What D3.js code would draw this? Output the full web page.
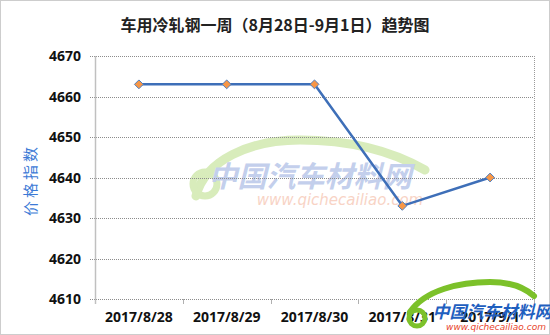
<!DOCTYPE html>
<html><head><meta charset="utf-8">
<script src="https://cdn.jsdelivr.net/npm/d3@7"></script>
<style>
html,body{margin:0;padding:0;background:#fff;}
svg{display:block;}
</style></head>
<body>
<svg id="c" width="550" height="335"></svg>
<script>
const categories = ["2017/8/28","2017/8/29","2017/8/30","2017/8/31","2017/9/1"];
const values = [4663, 4663, 4663, 4633, 4640];
const yTicks = [4610, 4620, 4630, 4640, 4650, 4660, 4670];
const titleText = "车用冷轧钢一周（8月28日-9月1日）趋势图";
const yTitle = "价格指数";

const W = 550, H = 335;
const m = {left: 95, right: 16, top: 56, bottom: 36};
const svg = d3.select("#c");

// outer border
svg.append("rect").attr("x",0.5).attr("y",0.5).attr("width",W-1).attr("height",H-1)
  .attr("fill","#fff").attr("stroke","#9a9a9a").attr("stroke-dasharray","1,1");

const x = d3.scaleBand().domain(categories).range([m.left, W - m.right]).padding(0);
const y = d3.scaleLinear().domain([4610, 4670]).range([H - m.bottom, m.top]);

const CJK = "'Noto Sans CJK SC','Noto Sans',sans-serif";

// watermark (center)
const wm = svg.append("g").attr("opacity",0.45);
wm.append("path")
  .attr("d","M196,196 C205,160 250,140 300,140 C350,140 390,150 425,170")
  .attr("fill","none").attr("stroke","#a9d66a").attr("stroke-width",9).attr("stroke-linecap","round");
wm.append("circle").attr("cx",205).attr("cy",184).attr("r",12)
  .attr("fill","none").attr("stroke","#a9d66a").attr("stroke-width",7);
wm.append("text").attr("x",310).attr("y",187).attr("text-anchor","middle")
  .attr("font-family",CJK).attr("font-weight","bold").attr("font-style","italic")
  .attr("font-size",29).attr("fill","#7b96d6").attr("transform","skewX(0)").text("中国汽车材料网");
wm.append("text").attr("x",340).attr("y",205).attr("text-anchor","middle")
  .attr("font-family","'DejaVu Sans',sans-serif").attr("font-style","italic")
  .attr("font-size",15).attr("fill","#f0a080").text("www.qichecailiao.com");

// gridlines
svg.append("g").selectAll("line").data(yTicks).join("line")
  .attr("x1", m.left - 5).attr("x2", W - m.right)
  .attr("y1", d => Math.round(y(d)) + 0.5).attr("y2", d => Math.round(y(d)) + 0.5)
  .attr("stroke","#8c8c8c").attr("stroke-dasharray","1,1");

// right border of plot
svg.append("line").attr("x1", W - m.right + 0.5).attr("x2", W - m.right + 0.5)
  .attr("y1", m.top).attr("y2", H - m.bottom)
  .attr("stroke","#9a9a9a").attr("stroke-dasharray","1,1");

// left axis
svg.append("line").attr("x1", m.left + 0.5).attr("x2", m.left + 0.5)
  .attr("y1", m.top).attr("y2", H - m.bottom + 5)
  .attr("stroke","#c0c0c0").attr("stroke-width",1.5);

// x ticks at band edges
const edges = categories.map(c => x(c)).concat([x(categories[categories.length-1]) + x.bandwidth()]);
svg.append("g").selectAll("line").data(edges.slice(1)).join("line")
  .attr("x1", d => Math.round(d) + 0.5).attr("x2", d => Math.round(d) + 0.5)
  .attr("y1", H - m.bottom).attr("y2", H - m.bottom + 5)
  .attr("stroke","#b0b0b0");

// y tick labels
svg.append("g").selectAll("text").data(yTicks).join("text")
  .attr("x", m.left - 14).attr("y", d => y(d) + 5)
  .attr("text-anchor","end").attr("font-family","'Open Sans',sans-serif")
  .attr("font-weight","bold").attr("font-size",14).attr("fill","#111")
  .text(d => d);

// x labels
svg.append("g").selectAll("text").data(categories).join("text")
  .attr("x", d => x(d) + x.bandwidth()/2).attr("y", H - 13)
  .attr("text-anchor","middle").attr("font-family","'Open Sans',sans-serif")
  .attr("font-weight","bold").attr("font-size",14).attr("fill","#111")
  .text(d => d);

// title
svg.append("text").attr("x", 275).attr("y", 31).attr("text-anchor","middle")
  .attr("font-family",CJK).attr("font-weight","bold").attr("font-size",16)
  .attr("fill","#222").text(titleText);

// y title
svg.append("text").attr("transform","translate(36,180) rotate(-90)")
  .attr("text-anchor","middle").attr("font-family",CJK).attr("font-size",15)
  .attr("letter-spacing",3).attr("fill","#3c7ad6").text(yTitle);

// line
const pts = categories.map((c,i) => [x(c) + x.bandwidth()/2, y(values[i])]);
svg.append("path").datum(pts).attr("d", d3.line())
  .attr("fill","none").attr("stroke","#3e6fb8").attr("stroke-width",2.5);

// markers
svg.append("g").selectAll("path").data(pts).join("path")
  .attr("transform", d => `translate(${d[0]},${d[1]})`)
  .attr("d", d3.symbol(d3.symbolDiamond2 || d3.symbolDiamond, 50))
  .attr("fill","#f79646").attr("stroke","#4f7fc0").attr("stroke-width",1);

// bottom-right logo
const lg = svg.append("g");
lg.append("path").attr("d","M410,312 C425,290 460,282 490,282 C510,282 525,288 534,296")
  .attr("fill","none").attr("stroke","#7cc12a").attr("stroke-width",6).attr("stroke-linecap","round");
lg.append("circle").attr("cx",417).attr("cy",318).attr("r",8)
  .attr("fill","none").attr("stroke","#7cc12a").attr("stroke-width",5);
lg.append("text").attr("x",492).attr("y",318).attr("text-anchor","middle")
  .attr("font-family",CJK).attr("font-weight","bold").attr("font-style","italic")
  .attr("font-size",17).attr("fill","#1f5fbf").text("中国汽车材料网");
lg.append("text").attr("x",496).attr("y",330).attr("text-anchor","middle")
  .attr("font-family","'DejaVu Sans',sans-serif").attr("font-style","italic")
  .attr("font-size",9).attr("fill","#e8452c").text("www.qichecailiao.com");
</script>
</body></html>
